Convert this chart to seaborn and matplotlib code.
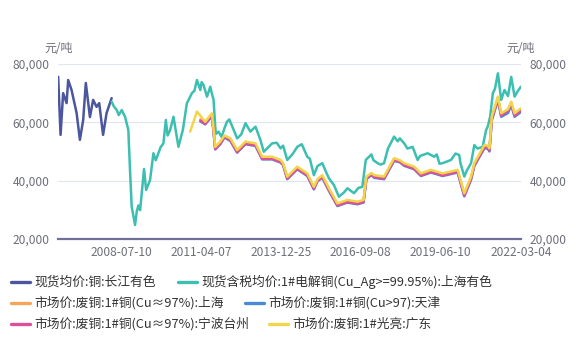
import matplotlib
matplotlib.use("Agg")
import matplotlib.pyplot as plt
from matplotlib.lines import Line2D
import pandas as pd
import seaborn as sns

# ---- data (元/吨) ----
cj_dates = ["2006-05-17", "2006-06-16", "2006-07-18", "2006-08-30", "2006-09-19",
            "2006-10-31", "2007-01-02", "2007-02-12", "2007-03-25", "2007-04-27",
            "2007-06-17", "2007-07-27", "2007-09-08", "2007-10-11", "2007-11-28",
            "2008-01-11", "2008-03-14"]
cj_values = [75600, 55700, 70000, 66600, 74500, 71100, 63200, 54000, 60800, 73500,
             61800, 67700, 65300, 66600, 55700, 63200, 68300]

sh_dates = ["2008-03-14", "2008-04-10", "2008-05-17", "2008-06-10", "2008-07-18",
            "2008-08-28", "2008-10-08", "2008-10-29", "2008-11-19", "2008-12-31",
            "2009-01-21", "2009-02-10", "2009-03-04", "2009-04-22", "2009-05-18",
            "2009-07-06", "2009-08-17", "2009-09-15", "2009-10-19", "2009-11-15",
            "2009-12-20", "2010-01-19", "2010-02-10", "2010-03-14", "2010-04-24",
            "2010-06-25", "2010-08-19", "2010-10-08", "2010-12-10", "2011-01-10",
            "2011-02-11", "2011-03-25", "2011-04-10", "2011-05-04", "2011-06-16",
            "2011-07-27", "2011-08-10", "2011-09-06", "2011-09-27", "2011-10-05",
            "2011-11-07", "2011-12-15", "2012-01-20", "2012-02-20", "2012-03-20",
            "2012-05-05", "2012-06-26", "2012-08-15", "2012-10-08", "2012-12-09",
            "2013-01-05", "2013-02-10", "2013-04-13", "2013-05-24", "2013-07-20",
            "2013-09-06", "2013-11-01", "2013-12-20", "2014-01-20", "2014-03-13",
            "2014-05-15", "2014-07-16", "2014-09-10", "2014-11-18", "2014-12-20",
            "2015-02-08", "2015-03-25", "2015-05-24", "2015-07-01", "2015-08-15",
            "2015-10-16", "2015-12-17", "2016-02-20", "2016-04-01", "2016-06-23",
            "2016-08-15", "2016-10-04", "2016-11-16", "2016-12-27", "2017-01-25",
            "2017-02-20", "2017-04-13", "2017-05-20", "2017-07-02", "2017-08-20",
            "2017-11-04", "2017-12-20", "2018-01-15", "2018-03-10", "2018-04-20",
            "2018-06-23", "2018-08-25", "2018-09-25", "2018-12-28", "2019-03-20",
            "2019-04-20", "2019-05-25", "2019-07-02", "2019-10-15", "2019-12-10",
            "2020-01-25", "2020-02-10", "2020-03-29", "2020-04-30", "2020-06-21",
            "2020-08-01", "2020-09-10", "2020-11-13", "2020-12-26", "2021-01-15",
            "2021-02-14", "2021-03-20", "2021-04-15", "2021-05-22", "2021-07-02",
            "2021-08-12", "2021-09-25", "2021-11-04", "2021-12-16", "2022-01-20",
            "2022-03-04"]
sh_values = [67100, 65500, 64200, 62500, 64200, 61900, 57400, 43700, 31100, 24800,
             29400, 31500, 29900, 44000, 36800, 40200, 49400, 47000, 49500, 51500,
             52800, 60800, 55500, 57400, 61900, 51600, 57400, 66500, 70000, 70800,
             74500, 71100, 73800, 72800, 68800, 72200, 70500, 67700, 58500, 56000,
             56800, 55000, 58000, 60200, 61000, 58000, 54500, 55800, 59700, 56800,
             57600, 58500, 53900, 49900, 51500, 52800, 53000, 51100, 52000, 47100,
             49000, 51600, 52500, 48200, 47500, 41900, 45000, 46000, 43500, 40800,
             38500, 34500, 36000, 37400, 35700, 37500, 37900, 47100, 48200, 49000,
             47000, 46000, 45500, 46000, 51000, 55100, 53500, 54500, 52800, 51000,
             51600, 47100, 48500, 49400, 48200, 49000, 45800, 46000, 47100, 49300,
             48800, 46000, 41400, 43500, 46000, 52200, 51000, 51600, 57400, 58500,
             61900, 70000, 71500, 76800, 67700, 71100, 69000, 75600, 68800, 70500,
             72200]

scrap_dates = ["2011-03-25", "2011-05-25", "2011-08-17", "2011-09-27", "2011-11-29",
               "2012-01-20", "2012-04-03", "2012-06-26", "2012-10-08", "2013-02-10",
               "2013-05-04", "2013-09-06", "2013-12-20", "2014-01-20", "2014-03-13",
               "2014-07-16", "2014-11-18", "2015-02-08", "2015-03-25", "2015-05-24",
               "2015-08-15", "2015-11-28", "2016-04-01", "2016-08-04", "2016-10-19",
               "2016-11-24", "2017-01-25", "2017-02-28", "2017-07-02", "2017-11-04",
               "2018-01-15", "2018-03-10", "2018-07-13", "2018-10-05", "2019-02-08",
               "2019-07-02", "2020-01-06", "2020-03-29", "2020-06-21", "2020-08-01",
               "2020-12-04", "2021-01-15", "2021-02-05", "2021-03-07", "2021-05-22",
               "2021-07-02", "2021-09-25", "2021-11-04", "2021-12-16", "2022-03-04"]
sh_scrap = [61000, 59900, 62800, 51300, 53100, 55200, 54200, 50200, 53100, 52500,
            47900, 47900, 46800, 45700, 41100, 44500, 42200, 37600, 40200, 41600,
            37100, 31900, 33100, 32500, 33100, 41100, 42300, 41600, 41100, 47400,
            46700, 45700, 44500, 42200, 43400, 42200, 43400, 35400, 41100, 45700,
            51900, 51700, 50800, 61600, 68500, 62800, 64200, 66800, 62800, 64500]
tj_scrap = [60300, 59300, 62100, 50700, 52500, 54800, 53600, 49600, 52500, 51900,
            47300, 47300, 46200, 45300, 40500, 43900, 41600, 37000, 39800, 41000,
            36500, 31300, 32500, 31900, 32500, 40500, 41900, 41000, 40500, 46800,
            46300, 45100, 43900, 41600, 42800, 41600, 42800, 34600, 40300, 45000,
            51100, 51000, 50000, 60700, 67600, 61900, 63200, 65900, 61900, 63500]
nb_scrap = [60600, 59500, 62300, 50900, 52700, 55000, 53800, 49800, 52700, 52100,
            47500, 47500, 46400, 45500, 40700, 44100, 41800, 37200, 40000, 41200,
            36700, 31500, 32700, 32100, 32700, 40700, 42100, 41200, 40700, 47000,
            46500, 45300, 44100, 41800, 43000, 41800, 43000, 34900, 40600, 45300,
            51400, 51500, 50300, 61100, 68000, 62300, 64000, 66300, 62300, 64000]

gd_dates = ["2010-11-18", "2011-02-11", "2011-05-25", "2011-08-17", "2011-09-27",
            "2011-11-29", "2012-01-20", "2012-04-03", "2012-06-26", "2012-10-08",
            "2013-02-10", "2013-05-04", "2013-09-06", "2013-12-20", "2014-01-20",
            "2014-03-13", "2014-07-16", "2014-11-18", "2015-02-08", "2015-03-25",
            "2015-05-24", "2015-08-15", "2015-11-28", "2016-04-01", "2016-08-04",
            "2016-10-19", "2016-11-24", "2017-01-25", "2017-02-28", "2017-07-02",
            "2017-11-04", "2018-01-15", "2018-03-10", "2018-07-13", "2018-10-05",
            "2019-02-08", "2019-07-02", "2020-01-06", "2020-03-29", "2020-06-21",
            "2020-08-01", "2020-12-04", "2021-01-15", "2021-02-05", "2021-03-07",
            "2021-05-22", "2021-07-02", "2021-09-25", "2021-11-04", "2021-12-16",
            "2022-03-04"]
gd_bright = [56800, 63700, 60200, 63100, 51600, 53400, 55500, 54500, 50500, 53400,
             52800, 48200, 48200, 47100, 46000, 41400, 44800, 42500, 37900, 40500,
             41900, 37400, 32200, 33400, 32800, 33400, 41400, 42600, 41900, 41400,
             47700, 47000, 46000, 44800, 42500, 43700, 42500, 43700, 35700, 41400,
             46000, 52200, 52000, 51100, 61900, 68800, 63100, 64500, 67100, 63100,
             64800]

names = ["现货均价:铜:长江有色",
         "现货含税均价:1#电解铜(Cu_Ag>=99.95%):上海有色",
         "市场价:废铜:1#铜(Cu≈97%):上海",
         "市场价:废铜:1#铜(Cu>97):天津",
         "市场价:废铜:1#铜(Cu≈97%):宁波台州",
         "市场价:废铜:1#光亮:广东"]
colors = ["#4b569e", "#3cbfb0", "#f5a65b", "#4a8ad6", "#df4f98", "#f2d54a"]
series = [(cj_dates, cj_values), (sh_dates, sh_values), (scrap_dates, sh_scrap),
          (scrap_dates, tj_scrap), (scrap_dates, nb_scrap), (gd_dates, gd_bright)]

tick_dates = ["2008-07-10", "2011-04-07", "2013-12-25", "2016-09-08",
              "2019-06-10", "2022-03-04"]
y_ticks = [20000, 40000, 60000, 80000]

frames = []
for name, (d, v) in zip(names, series):
    frames.append(pd.DataFrame({"date": pd.to_datetime(d), "value": v, "series": name}))
df = pd.concat(frames, ignore_index=True)

# ---- figure ----
sns.set_theme(style="white")
plt.rcParams["font.family"] = ["Noto Sans CJK SC", "DejaVu Sans"]
W, H = 577, 342
fig = plt.figure(figsize=(W / 100, H / 100), dpi=100)
ax = fig.add_axes([58 / W, 1 - 239 / H, (521 - 58) / W, (239 - 64) / H])

label_color = "#6E7079"
for yv in y_ticks[1:]:
    ax.axhline(yv, color="#E0E6F1", lw=0.8, zorder=0)

sns.lineplot(data=df, x="date", y="value", hue="series", hue_order=names,
             palette=colors, linewidth=1.8, legend=False, ax=ax, estimator=None,
             sort=True)

ax.set_xlim(pd.Timestamp("2006-05-15"), pd.Timestamp("2022-03-06"))
ax.set_ylim(20000, 80000)
ax.set_xlabel("")
ax.set_ylabel("")
ax.set_xticks(pd.to_datetime(tick_dates))
ax.set_xticklabels(tick_dates)
ax.set_yticks(y_ticks)
ax.set_yticklabels([f"{v:,}" for v in y_ticks])
ax.tick_params(axis="both", length=0, labelsize=8.6, labelcolor=label_color)
ax.tick_params(axis="x", pad=5)
ax.tick_params(axis="y", pad=6)
for s in ["top", "left", "right"]:
    ax.spines[s].set_visible(False)
ax.spines["bottom"].set_color("#6f6f99")
ax.spines["bottom"].set_linewidth(1.6)

ax2 = ax.twinx()
ax2.set_ylim(20000, 80000)
ax2.set_yticks(y_ticks)
ax2.set_yticklabels([f"{v:,}" for v in y_ticks])
ax2.tick_params(axis="y", length=0, labelsize=8.6, labelcolor=label_color, pad=6)
for s in ax2.spines.values():
    s.set_visible(False)

fig.text(59 / W, 1 - 48 / H, "元/吨", ha="center", va="center",
         fontsize=8.6, color=label_color)
fig.text(521 / W, 1 - 48 / H, "元/吨", ha="center", va="center",
         fontsize=8.6, color=label_color)

# ---- legend ----
legend_pos = [(11, 282), (178, 282), (11, 303), (245, 303), (11, 324), (269, 324)]
for (x, y), name, c in zip(legend_pos, names, colors):
    fig.add_artist(Line2D([x / W, (x + 19) / W], [1 - y / H, 1 - y / H],
                          transform=fig.transFigure, color=c, lw=2.4,
                          solid_capstyle="round"))
    fig.text((x + 23) / W, 1 - y / H, name, ha="left", va="center",
             fontsize=9.2, color="#333333")

fig.savefig("out.png", dpi=100)
